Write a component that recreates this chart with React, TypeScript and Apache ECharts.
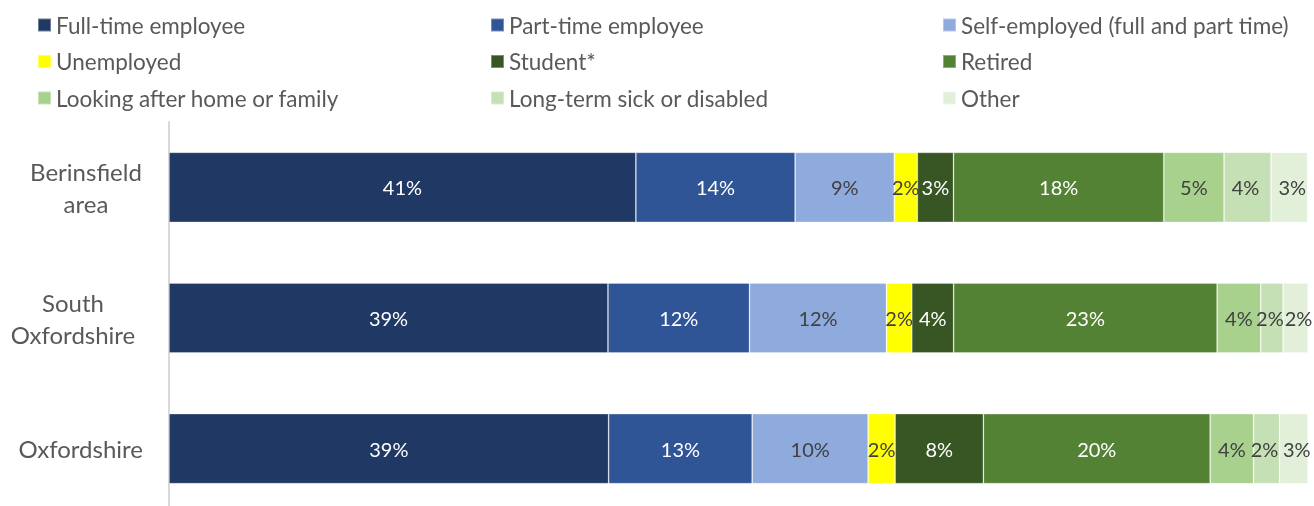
import React, { useEffect, useRef } from "react";
import * as echarts from "echarts";

const categories = ["Berinsfield area", "South Oxfordshire", "Oxfordshire"];

const seriesNames = [
  "Full-time employee",
  "Part-time employee",
  "Self-employed (full and part time)",
  "Unemployed",
  "Student*",
  "Retired",
  "Looking after home or family",
  "Long-term sick or disabled",
  "Other",
];

// values per series: [Berinsfield area, South Oxfordshire, Oxfordshire]
const fullTime = [40.99, 38.54, 38.6];
const partTime = [13.98, 12.43, 12.6];
const selfEmployed = [8.71, 12.02, 10.18];
const unemployed = [2.02, 2.22, 2.37];
const student = [3.18, 3.68, 7.75];
const retired = [18.46, 23.13, 19.91];
const lookingAfter = [5.29, 3.83, 3.81];
const longTermSick = [4.12, 1.96, 2.28];
const other = [3.22, 2.2, 2.5];

const seriesValues = [
  fullTime,
  partTime,
  selfEmployed,
  unemployed,
  student,
  retired,
  lookingAfter,
  longTermSick,
  other,
];

const colors = [
  "#203864",
  "#2F5597",
  "#8FAADC",
  "#FFFF00",
  "#375623",
  "#548235",
  "#A9D18E",
  "#C5E0B4",
  "#E2F0D9",
];

const labelColors = [
  "#FFFFFF",
  "#FFFFFF",
  "#404040",
  "#404040",
  "#FFFFFF",
  "#FFFFFF",
  "#404040",
  "#404040",
  "#404040",
];

const FONT = "Lato, 'Noto Sans', sans-serif";

export default function App() {
  const ref = useRef<HTMLDivElement>(null);

  useEffect(() => {
    document.body.style.margin = "0";
    const chart = echarts.init(ref.current!, null, { renderer: "svg" });

    const legendText = {
      color: "#595959",
      fontSize: 22.5,
      fontFamily: FONT,
      lineHeight: 24,
    };
    const legendCol = (left: number, names: string[]) => ({
      show: true,
      orient: "vertical" as const,
      left,
      top: 13,
      padding: 0,
      itemGap: 12.5,
      itemWidth: 13,
      itemHeight: 13,
      icon: "rect",
      data: names,
      textStyle: legendText,
      selectedMode: false,
    });

    const axisFont = {
      color: "#595959",
      fontSize: 24,
      fontFamily: FONT,
      lineHeight: 32,
    };

    const lastIdx = seriesNames.length - 1;

    chart.setOption({
      animation: false,
      legend: [
        legendCol(37, [seriesNames[0], seriesNames[3], seriesNames[6]]),
        legendCol(490, [seriesNames[1], seriesNames[4], seriesNames[7]]),
        legendCol(942, [seriesNames[2], seriesNames[5], seriesNames[8]]),
      ],
      grid: {
        left: 168,
        top: 122,
        width: 1140,
        height: 392,
        containLabel: false,
      },
      xAxis: {
        type: "value",
        min: 0,
        max: 100,
        show: false,
      },
      yAxis: {
        type: "category",
        data: categories,
        inverse: true,
        axisLine: { show: true, lineStyle: { color: "#D9D9D9", width: 2 } },
        axisTick: { show: false },
        axisLabel: {
          margin: 26,
          ...axisFont,
          formatter: (v: string) => {
            if (v === "Berinsfield area") return "{b|Berinsfield}\n{b|area}";
            if (v === "South Oxfordshire") return "{s|South}\n{s|Oxfordshire}";
            return "{o|" + v + "}";
          },
          rich: {
            b: { width: 114, align: "center", ...axisFont },
            s: { width: 140, align: "center", ...axisFont },
            o: { ...axisFont },
          },
        },
      },
      series: seriesNames.map((name, i) => ({
        name,
        type: "bar",
        stack: "total",
        data: seriesValues[i],
        barWidth: 70,
        itemStyle: {
          color: colors[i],
          borderColor: "rgba(255,255,255,0.35)",
          borderWidth: 0.8,
        },
        label: {
          show: true,
          position: "inside",
          color: labelColors[i],
          fontSize: 20,
          fontFamily: FONT,
          offset: i === lastIdx ? [3, 0] : i === lastIdx - 1 ? [-2, 0] : [0, 0],
          formatter: (p: any) => Math.round(p.value) + "%",
        },
      })),
    });

    return () => chart.dispose();
  }, []);

  return (
    <div
      ref={ref}
      style={{ position: "fixed", left: 0, top: 0, width: 1314, height: 520 }}
    />
  );
}
